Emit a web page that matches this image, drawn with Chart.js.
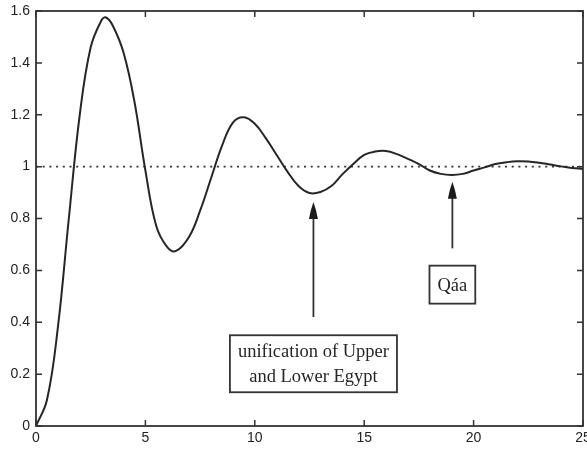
<!DOCTYPE html>
<html>
<head>
<meta charset="utf-8">
<script src="https://cdn.jsdelivr.net/npm/chart.js@4"></script>
<style>
  html, body { margin: 0; padding: 0; background: #ffffff; }
  #wrap { width: 587px; height: 450px; }
</style>
</head>
<body>
<div id="wrap"><canvas id="c" width="587" height="450"></canvas></div>
<script>
// ---- data ----
const timeValues = [0, 0.5, 1.0, 1.5, 2.0, 2.5, 3.0, 3.2, 3.5, 4.0, 4.5, 5.0, 5.5, 6.0, 6.4, 7.0, 7.5, 8.0, 8.5, 9.0, 9.5, 10.0, 10.5, 11.0, 11.5, 12.0, 12.5, 13.0, 13.5, 14.0, 14.5, 15.0, 15.5, 16.0, 16.5, 17.0, 17.5, 18.0, 18.5, 19.0, 19.5, 20.0, 20.5, 21.0, 21.5, 22.0, 22.5, 23.0, 23.5, 24.0, 24.5, 25.0];
const responseValues = [0, 0.10, 0.38, 0.80, 1.20, 1.46, 1.565, 1.575, 1.545, 1.44, 1.25, 0.985, 0.77, 0.69, 0.675, 0.73, 0.83, 0.955, 1.08, 1.17, 1.19, 1.165, 1.11, 1.045, 0.98, 0.925, 0.898, 0.902, 0.925, 0.97, 1.01, 1.045, 1.058, 1.06, 1.048, 1.03, 1.01, 0.985, 0.972, 0.968, 0.972, 0.985, 0.997, 1.01, 1.017, 1.021, 1.02, 1.015, 1.008, 1.001, 0.995, 0.992];
const referenceLevel = 1;
const xTickValues = [0, 5, 10, 15, 20, 25];
const yTickValues = [0, 0.2, 0.4, 0.6, 0.8, 1.0, 1.2, 1.4, 1.6];
const annotationTexts = [["unification of Upper", "and Lower Egypt"], ["Qáa"]];
const annotationX = [12.68, 19.03];
const arrowTipY = [0.864, 0.942];
const arrowTailY = [0.42, 0.685];
const boxCenterY = [0.24, 0.545];

// ---- build chart ----
const curve = timeValues.map((t, i) => ({ x: t, y: responseValues[i] }));
const refLine = [{ x: xTickValues[0], y: referenceLevel }, { x: xTickValues[xTickValues.length - 1], y: referenceLevel }];

const INK = '#262626';

const frame = {
  id: 'frame',
  afterDatasetsDraw(chart) {
    const { ctx, chartArea: a, scales: { x, y } } = chart;
    ctx.save();
    ctx.strokeStyle = '#333';
    ctx.lineWidth = 1.5;
    const tl = 6;
    ctx.beginPath();
    xTickValues.forEach(v => {
      const px = x.getPixelForValue(v);
      ctx.moveTo(px, a.bottom); ctx.lineTo(px, a.bottom - tl);
      ctx.moveTo(px, a.top); ctx.lineTo(px, a.top + tl);
    });
    yTickValues.forEach(v => {
      const py = y.getPixelForValue(v);
      ctx.moveTo(a.left, py); ctx.lineTo(a.left + tl, py);
      ctx.moveTo(a.right, py); ctx.lineTo(a.right - tl, py);
    });
    ctx.stroke();
    ctx.lineWidth = 1.8;
    ctx.strokeRect(a.left, a.top, a.right - a.left, a.bottom - a.top);

    // annotations
    ctx.font = '18.5px "Liberation Serif", "Times New Roman", serif';
    ctx.textAlign = 'center';
    ctx.textBaseline = 'middle';
    annotationTexts.forEach((lines, i) => {
      const px = x.getPixelForValue(annotationX[i]);
      const tip = y.getPixelForValue(arrowTipY[i]);
      const tail = y.getPixelForValue(arrowTailY[i]);
      ctx.strokeStyle = '#333';
      ctx.lineWidth = 1.8;
      ctx.beginPath();
      ctx.moveTo(px, tail); ctx.lineTo(px, tip + 8);
      ctx.stroke();
      ctx.fillStyle = '#1a1a1a';
      ctx.beginPath();
      ctx.moveTo(px, tip);
      ctx.lineTo(px + 2.5, tip + 8);
      ctx.lineTo(px + 4.5, tip + 17);
      ctx.lineTo(px - 4.5, tip + 17);
      ctx.lineTo(px - 2.5, tip + 8);
      ctx.closePath();
      ctx.fill();
      const lh = 25;
      const w = Math.max(...lines.map(s => ctx.measureText(s).width)) + 16;
      const h = lines.length * lh + (lines.length > 1 ? 7 : 13);
      const cy = y.getPixelForValue(boxCenterY[i]);
      ctx.fillStyle = '#ffffff';
      ctx.fillRect(px - w / 2, cy - h / 2, w, h);
      ctx.strokeStyle = '#333';
      ctx.lineWidth = 1.8;
      ctx.strokeRect(px - w / 2, cy - h / 2, w, h);
      ctx.fillStyle = INK;
      lines.forEach((s, k) => {
        ctx.fillText(s, px, cy + (k - (lines.length - 1) / 2) * lh + 1);
      });
    });
    ctx.restore();
  }
};

new Chart(document.getElementById('c'), {
  type: 'line',
  data: {
    datasets: [
      {
        data: curve,
        borderColor: INK,
        borderWidth: 2,
        pointRadius: 0,
        fill: false,
        tension: 0.4,
        order: 1
      },
      {
        data: refLine,
        borderColor: '#333',
        borderWidth: 1.8,
        borderDash: [2, 4.7],
        pointRadius: 0,
        fill: false,
        order: 2
      }
    ]
  },
  options: {
    responsive: false,
    animation: false,
    layout: { padding: { top: 11, right: 4, left: 0, bottom: 0 } },
    plugins: { legend: { display: false }, tooltip: { enabled: false } },
    scales: {
      x: {
        type: 'linear',
        min: xTickValues[0],
        max: xTickValues[xTickValues.length - 1],
        afterBuildTicks(s) { s.ticks = xTickValues.map(v => ({ value: v })); },
        ticks: {
          callback: v => String(v),
          color: '#222',
          font: { family: '"Liberation Sans", Arial, sans-serif', size: 14 },
          padding: 4,
          maxRotation: 0,
          autoSkip: false
        },
        grid: { display: false, drawTicks: false },
        border: { display: false },
        afterFit(s) { s.height = 24; s.paddingLeft = 0; s.paddingRight = 0; }
      },
      y: {
        type: 'linear',
        min: yTickValues[0],
        max: yTickValues[yTickValues.length - 1],
        afterBuildTicks(s) { s.ticks = yTickValues.map(v => ({ value: v })); },
        ticks: {
          callback: v => String(Number(v.toFixed(1))),
          color: '#222',
          font: { family: '"Liberation Sans", Arial, sans-serif', size: 14 },
          padding: 6,
          autoSkip: false
        },
        grid: { display: false, drawTicks: false },
        border: { display: false },
        afterFit(s) { s.width = 36; s.paddingTop = 0; s.paddingBottom = 0; }
      }
    }
  },
  plugins: [frame]
});
</script>
</body>
</html>
